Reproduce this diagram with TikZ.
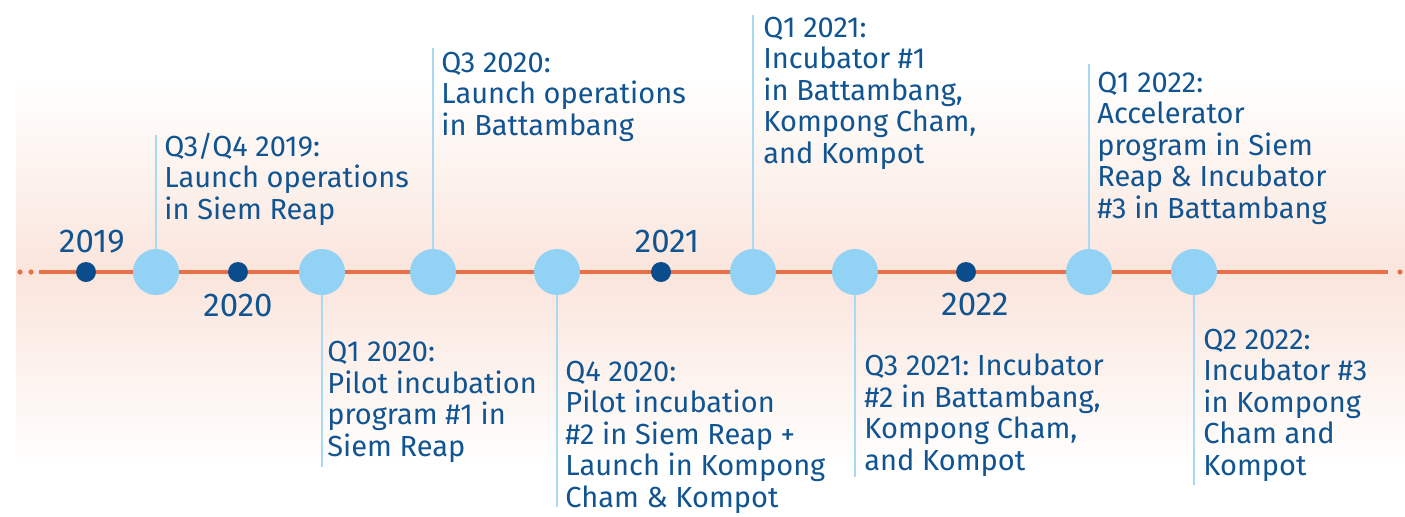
\documentclass[tikz,border=0pt]{standalone}
\usepackage{fontspec}
\setmainfont{Fira Sans}
\usepackage{xcolor}
\usetikzlibrary{positioning}
\frenchspacing

\definecolor{lineorange}{RGB}{232,112,72}
\definecolor{navy}{RGB}{16,84,146}
\definecolor{dotblue}{RGB}{10,76,140}
\definecolor{skyblue}{RGB}{146,211,245}
\definecolor{stemblue}{RGB}{170,217,242}
\definecolor{peach}{RGB}{250,229,220}

\begin{document}
\begin{tikzpicture}[
    x=0.5pt, y=-0.5pt,
    year/.style={circle, fill=dotblue, minimum size=10pt, inner sep=0pt},
    event/.style={circle, fill=skyblue, minimum size=23pt, inner sep=0pt},
    yearlbl/.style={text=navy, font=\fontsize{16.5}{18}\selectfont, inner sep=0pt, anchor=base},
    note/.style={text=navy, align=left, font=\fontsize{14.5}{15.75}\selectfont, inner sep=0pt, anchor=base west},
    stem/.style={draw=stemblue, line width=1pt}
]
\useasboundingbox (0,0) rectangle (1405,516);
\shade[top color=white, bottom color=white, middle color=peach] (16,78) rectangle (1405,468);

% axis
\coordinate (lstart) at (39,272);
\coordinate (lend) at (1388,272);
\draw[lineorange, line width=2pt] (lstart) -- (lend);
\fill[lineorange] (20,272) circle (1.3pt) (31,272) circle (1.3pt) (1400,272) circle (1.3pt);

% years
\node[year] (y19) at (86,272) {};
\node[year] (y20) at (238,272) {};
\node[year] (y21) at (661,272) {};
\node[year] (y22) at (966,272) {};
\node[yearlbl] (l19) at (92,252) {2019};
\node[yearlbl] (l20) at (238,316) {2020};
\node[yearlbl] (l21) at (667,252) {2021};
\node[yearlbl] (l22) at (975,315) {2022};

% milestones
\node[event] (e1) at (156,272) {};
\node[event] (e2) at (322,272) {};
\node[event] (e3) at (433,272) {};
\node[event] (e4) at (557,272) {};
\node[event] (e5) at (753,272) {};
\node[event] (e6) at (855,272) {};
\node[event] (e7) at (1089,272) {};
\node[event] (e8) at (1194,272) {};

\coordinate (t1) at (156,135);
\coordinate (t2) at (322,467);
\coordinate (t3) at (433,48);
\coordinate (t4) at (557,507);
\coordinate (t5) at (753,15);
\coordinate (t6) at (855,477);
\coordinate (t7) at (1089,64);
\coordinate (t8) at (1194,485);
\foreach \i in {1,...,8}
    \draw[stem] (e\i) -- (t\i);

% notes sit on the baseline of their last line
\node[note] (n1) at (164,219) {Q3/Q4 2019:\\Launch operations\\in Siem Reap};
\node[note] (n2) at (327,456) {Q1 2020:\\Pilot incubation\\program \#1 in\\Siem Reap};
\node[note] (n3) at (441,135) {Q3 2020:\\Launch operations\\in Battambang};
\node[note] (n4) at (565,507) {Q4 2020:\\Pilot incubation\\\#2 in Siem Reap +\\Launch in Kompong\\Cham \& Kompot};
\node[note] (n5) at (763,163) {Q1 2021:\\Incubator \#1\\in Battambang,\\Kompong Cham,\\and Kompot};
\node[note] (n6) at (864,470) {Q3 2021: Incubator\\\#2 in Battambang,\\Kompong Cham,\\and Kompot};
\node[note] (n7) at (1097,218) {Q1 2022:\\Accelerator\\program in Siem\\Reap \& Incubator\\\#3 in Battambang};
\node[note] (n8) at (1203,475) {Q2 2022:\\Incubator \#3\\in Kompong\\Cham and\\Kompot};
\end{tikzpicture}
\end{document}
